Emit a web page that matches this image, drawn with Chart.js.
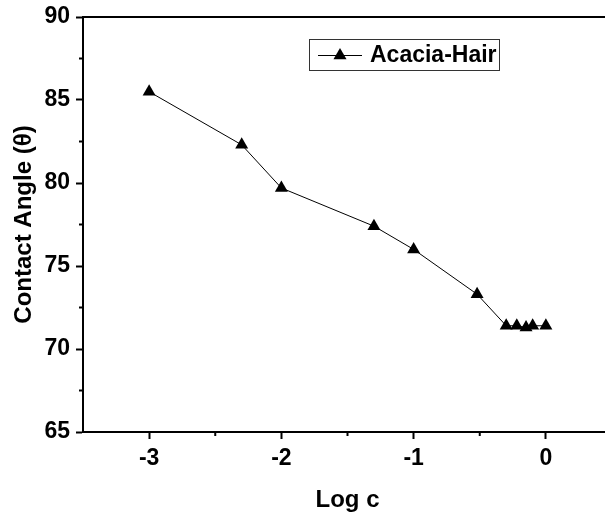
<!DOCTYPE html>
<html><head><meta charset="utf-8">
<script src="https://cdn.jsdelivr.net/npm/chart.js@4/dist/chart.umd.min.js"></script>
<style>html,body{margin:0;padding:0;overflow:hidden;background:#fff}#wrap{width:640px;height:519px}</style>
</head><body><div id="wrap"><canvas id="c" width="640" height="519"></canvas></div>
<script>
const logC = [-3, -2.3, -2, -1.3, -1, -0.52, -0.3, -0.22, -0.15, -0.1, 0];
const contactAngle = [85.5, 82.3, 79.7, 77.4, 76.0, 73.3, 71.4, 71.4, 71.3, 71.4, 71.4];
const xTickValues = [-3, -2, -1, 0];
const yTickValues = [65, 70, 75, 80, 85, 90];
const seriesName = 'Acacia-Hair';
const xTitle = 'Log c';
const yTitle = 'Contact Angle (\u03B8)';
const FONT = "'Liberation Sans', Arial, sans-serif";

const frame = {
  id: 'frame',
  afterDraw(chart) {
    const {ctx, chartArea: a, scales} = chart;
    ctx.save();
    ctx.strokeStyle = '#000';
    ctx.lineWidth = 2;
    ctx.beginPath();
    ctx.moveTo(a.left, a.top); ctx.lineTo(a.right + 5, a.top);
    ctx.stroke();
    // minor ticks
    for (let v = -2.5; v <= 0.5; v += 1) {
      const x = scales.x.getPixelForValue(v);
      ctx.beginPath(); ctx.moveTo(x, a.bottom); ctx.lineTo(x, a.bottom + 4); ctx.stroke();
    }
    for (let v = 67.5; v < 90; v += 5) {
      const y = scales.y.getPixelForValue(v);
      ctx.beginPath(); ctx.moveTo(a.left, y); ctx.lineTo(a.left - 4, y); ctx.stroke();
    }
    // legend
    const bx = 309, by = 39, bw = 190, bh = 31;
    ctx.lineWidth = 1;
    ctx.strokeStyle = '#333';
    ctx.strokeRect(bx + 0.5, by + 0.5, bw, bh);
    const ly = by + bh / 2 + 1;
    ctx.strokeStyle = '#000';
    ctx.beginPath(); ctx.moveTo(318, ly); ctx.lineTo(362, ly); ctx.stroke();
    ctx.fillStyle = '#000';
    const r = 7.5, cx = 340;
    ctx.beginPath();
    ctx.moveTo(cx, ly - r); ctx.lineTo(cx + r * 0.87, ly + r * 0.5); ctx.lineTo(cx - r * 0.87, ly + r * 0.5); ctx.closePath(); ctx.fill();
    ctx.font = 'bold 23px ' + FONT;
    ctx.textBaseline = 'middle';
    ctx.fillText(chart.data.datasets[0].label, 370, ly);
    ctx.restore();
  }
};

new Chart(document.getElementById('c'), {
  type: 'line',
  data: {
    datasets: [{
      label: seriesName,
      data: logC.map((x, i) => ({x, y: contactAngle[i]})),
      borderColor: '#000',
      backgroundColor: '#000',
      borderWidth: 1,
      pointStyle: 'triangle',
      pointRadius: 7.5,
      pointHoverRadius: 7.5,
      pointBorderWidth: 0,
      tension: 0
    }]
  },
  plugins: [frame],
  options: {
    responsive: false,
    animation: false,
    events: [],
    layout: {padding: {top: 17, right: 28, left: 0, bottom: 0}},
    plugins: {legend: {display: false}, tooltip: {enabled: false}},
    scales: {
      x: {
        type: 'linear', min: -3.5, max: 0.5,
        afterBuildTicks(s) { s.ticks = xTickValues.map(v => ({value: v})); },
        afterFit(s) { s.height = 87; s.paddingLeft = 0; s.paddingRight = 0; },
        ticks: {color: '#000', font: {family: FONT, size: 23, weight: 'bold'}, padding: 6, maxRotation: 0, autoSkip: false},
        grid: {drawOnChartArea: false, drawTicks: true, tickLength: 7, tickWidth: 2, tickColor: '#000'},
        border: {display: true, color: '#000', width: 2},
        title: {display: true, text: xTitle, color: '#000', font: {family: FONT, size: 24, weight: 'bold'}, padding: {top: 12}}
      },
      y: {
        type: 'linear', min: 65, max: 90,
        afterBuildTicks(s) { s.ticks = yTickValues.map(v => ({value: v})); },
        afterFit(s) { s.width = 83; s.paddingTop = 0; s.paddingBottom = 0; },
        ticks: {color: '#000', font: {family: FONT, size: 23, weight: 'bold'}, padding: 6, autoSkip: false},
        grid: {drawOnChartArea: false, drawTicks: true, tickLength: 7, tickWidth: 2, tickColor: '#000'},
        border: {display: true, color: '#000', width: 2},
        title: {display: true, text: yTitle, color: '#000', font: {family: FONT, size: 24, weight: 'bold'}, padding: {top: 10, bottom: 4}}
      }
    }
  }
});
</script></body></html>
